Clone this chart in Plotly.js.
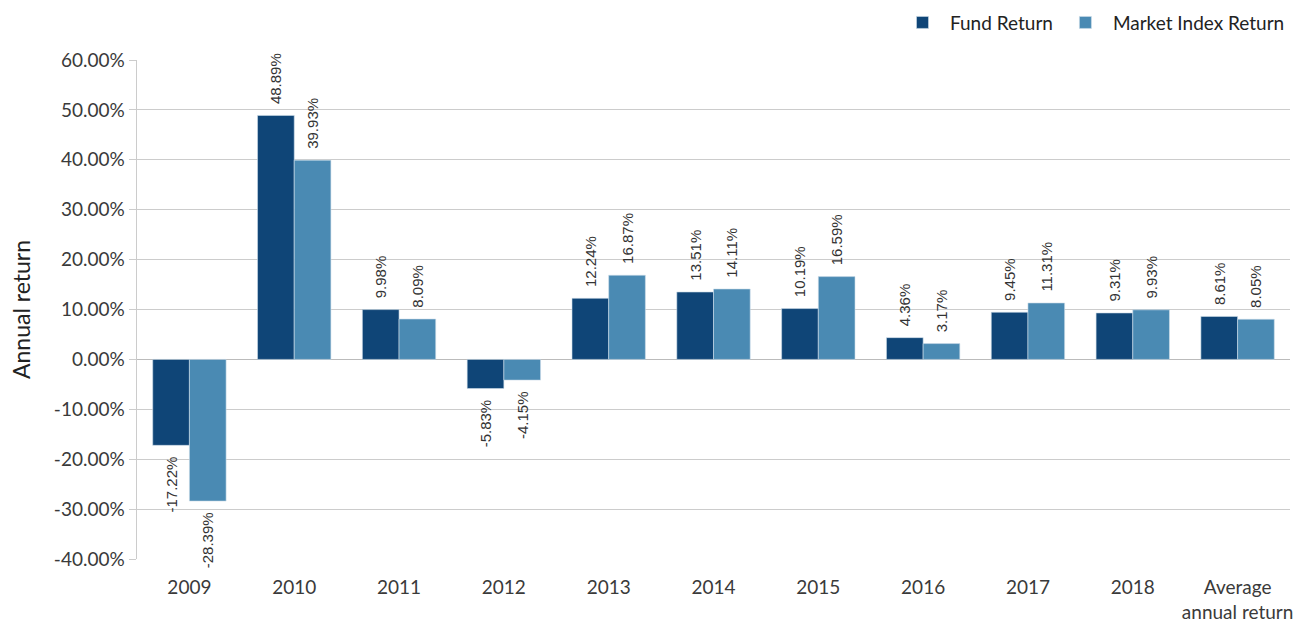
<!DOCTYPE html>
<html><head><meta charset="utf-8">
<script src="https://cdn.plot.ly/plotly-3.0.1.min.js"></script>
<style>html,body{margin:0;padding:0;background:#fff}#chart{width:1296px;height:623px}</style>
</head><body><div id="chart"></div>
<script>
const categories = ['2009','2010','2011','2012','2013','2014','2015','2016','2017','2018','Average<br>annual return'];
const fundReturn = [-17.22, 48.89, 9.98, -5.83, 12.24, 13.51, 10.19, 4.36, 9.45, 9.31, 8.61];
const marketReturn = [-28.39, 39.93, 8.09, -4.15, 16.87, 14.11, 16.59, 3.17, 11.31, 9.93, 8.05];
const seriesNames = ['Fund Return', 'Market Index Return'];
const yTickValues = [-40, -30, -20, -10, 0, 10, 20, 30, 40, 50, 60];
const yTickLabels = ['-40.00%', '-30.00%', '-20.00%', '-10.00%', '0.00%', '10.00%', '20.00%', '30.00%', '40.00%', '50.00%', '60.00%'];

const labelFont = {family: 'Liberation Sans, Arial, sans-serif', size: 15, color: '#333'};
const pad = '\u00a0\u00a0';
function mk(name, vals, color) {
  return {
    type: 'bar', name: name, x: categories, y: vals,
    marker: {color: color, line: {color: '#cfdde9', width: 0.6}},
    text: vals.map(v => v >= 0 ? pad + v.toFixed(2) + '%' : v.toFixed(2) + '%' + pad),
    textposition: 'outside', textangle: -90, constraintext: 'none',
    textfont: labelFont, cliponaxis: false,
    hoverinfo: 'x+y'
  };
}
const data = [mk(seriesNames[0], fundReturn, '#0f4577'), mk(seriesNames[1], marketReturn, '#4a8ab3')];
const layout = {
  width: 1296, height: 623,
  margin: {l: 137, r: 6, t: 60, b: 64, autoexpand: false},
  paper_bgcolor: '#fff', plot_bgcolor: '#fff',
  font: {family: 'Lato, Open Sans, sans-serif', color: '#3a3a3a'},
  barmode: 'group', bargap: 0.3, bargroupgap: 0,
  showlegend: true,
  legend: {orientation: 'h', x: 1, xanchor: 'right', y: 1.075, yanchor: 'middle',
           font: {size: 19, color: '#222'}, itemwidth: 45, traceorder: 'normal'},
  xaxis: {type: 'category', showgrid: false, showline: false, ticks: '',
          ticklabelstandoff: 15,
          tickfont: {size: 19, color: '#3a3a3a'}, automargin: false},
  yaxis: {range: [-40, 60], tickmode: 'array', tickvals: yTickValues, ticktext: yTickLabels,
          showgrid: true, gridcolor: '#cccccc', gridwidth: 1,
          zeroline: true, zerolinecolor: '#bbbbbb', zerolinewidth: 1.5,
          showline: true, linecolor: '#cccccc', linewidth: 1.5,
          ticks: 'outside', ticklen: 7, tickcolor: '#cccccc',
          tickfont: {size: 19, color: '#3a3a3a'},
          title: {text: 'Annual return', font: {size: 23, color: '#222'}, standoff: 17},
          automargin: false}
};
Plotly.newPlot('chart', data, layout, {displayModeBar: false, staticPlot: true});
</script></body></html>
